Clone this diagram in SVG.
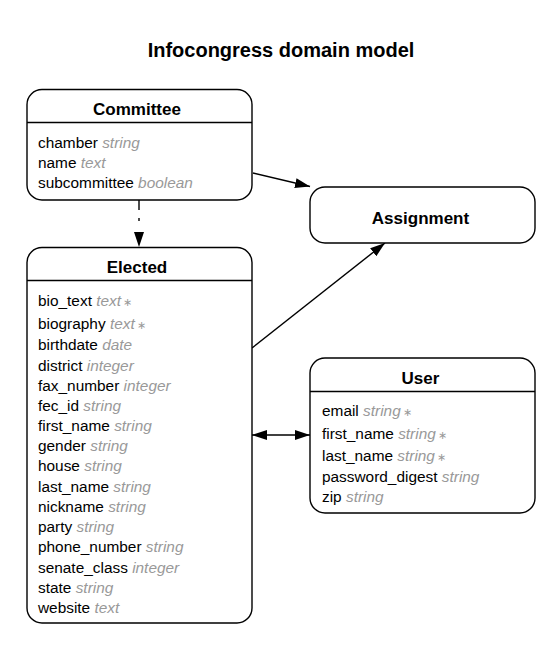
<svg xmlns="http://www.w3.org/2000/svg" width="557" height="649" viewBox="0 0 557 649">
<defs>
<style>
.box{fill:#fff;stroke:#000;stroke-width:1.4}
.div{stroke:#000;stroke-width:1.4}
.hdr{font-family:"Liberation Sans",Arial,sans-serif;font-weight:bold;font-size:17px;text-anchor:middle;fill:#000}
.row{font-family:"Liberation Sans",Arial,sans-serif;font-size:15.4px;fill:#000}
.ty{font-style:italic;fill:#999}
.st{font-size:11px;fill:#999;font-style:normal}
.edge{stroke:#000;stroke-width:1.4;fill:none}
</style>
<marker id="arr" markerUnits="userSpaceOnUse" markerWidth="16" markerHeight="12" refX="15" refY="6" orient="auto">
<path d="M0,1 L15,6 L0,11 Z" fill="#000"/>
</marker>
<marker id="arrS" markerUnits="userSpaceOnUse" markerWidth="16" markerHeight="12" refX="0" refY="6" orient="auto">
<path d="M15,1 L0,6 L15,11 Z" fill="#000"/>
</marker>
</defs>
<rect width="557" height="649" fill="#fff"/>
<text x="281" y="57" font-family="Liberation Sans,Arial,sans-serif" font-weight="bold" font-size="20" text-anchor="middle">Infocongress domain model</text>

<g id="connectors">
<path class="edge" d="M253,173 L310,186.5" marker-end="url(#arr)"/>
<path class="edge" d="M252,348 L385,243" marker-end="url(#arr)"/>
<path class="edge" d="M139,200 L139,247" stroke-dasharray="10,8,3,11" marker-end="url(#arr)"/>
<path class="edge" d="M252,435 L310,435" marker-start="url(#arrS)" marker-end="url(#arr)"/>
</g>

<g id="committee">
<rect class="box" x="27" y="89.5" width="225" height="110.5" rx="15" ry="15"/>
<line class="div" x1="27" y1="122.5" x2="252" y2="122.5"/>
<text class="hdr" x="137" y="115">Committee</text>
<text class="row" x="38" y="148">chamber <tspan class="ty">string</tspan></text>
<text class="row" x="38" y="168">name <tspan class="ty">text</tspan></text>
<text class="row" x="38" y="188">subcommittee <tspan class="ty">boolean</tspan></text>
</g>

<g id="assignment">
<rect class="box" x="310" y="187" width="225" height="56" rx="15" ry="15"/>
<text class="hdr" x="420.5" y="224">Assignment</text>
</g>

<g id="elected">
<rect class="box" x="27" y="247.5" width="225" height="375.5" rx="15" ry="15"/>
<line class="div" x1="27" y1="280.5" x2="252" y2="280.5"/>
<text class="hdr" x="137" y="273">Elected</text>
<text class="row" x="38" y="306">bio_text <tspan class="ty">text</tspan><tspan class="st" dx="2">∗</tspan></text>
<text class="row" x="38" y="329">biography <tspan class="ty">text</tspan><tspan class="st" dx="2">∗</tspan></text>
<text class="row" x="38" y="350">birthdate <tspan class="ty">date</tspan></text>
<text class="row" x="38" y="370.5">district <tspan class="ty">integer</tspan></text>
<text class="row" x="38" y="391">fax_number <tspan class="ty">integer</tspan></text>
<text class="row" x="38" y="411">fec_id <tspan class="ty">string</tspan></text>
<text class="row" x="38" y="431">first_name <tspan class="ty">string</tspan></text>
<text class="row" x="38" y="451">gender <tspan class="ty">string</tspan></text>
<text class="row" x="38" y="471">house <tspan class="ty">string</tspan></text>
<text class="row" x="38" y="492">last_name <tspan class="ty">string</tspan></text>
<text class="row" x="38" y="512">nickname <tspan class="ty">string</tspan></text>
<text class="row" x="38" y="532">party <tspan class="ty">string</tspan></text>
<text class="row" x="38" y="552">phone_number <tspan class="ty">string</tspan></text>
<text class="row" x="38" y="572.5">senate_class <tspan class="ty">integer</tspan></text>
<text class="row" x="38" y="592.5">state <tspan class="ty">string</tspan></text>
<text class="row" x="38" y="612.5">website <tspan class="ty">text</tspan></text>
</g>

<g id="user">
<rect class="box" x="310" y="358" width="225" height="155" rx="15" ry="15"/>
<line class="div" x1="310" y1="391.5" x2="535" y2="391.5"/>
<text class="hdr" x="420.5" y="384">User</text>
<text class="row" x="322" y="416">email <tspan class="ty">string</tspan><tspan class="st" dx="2">∗</tspan></text>
<text class="row" x="322" y="439">first_name <tspan class="ty">string</tspan><tspan class="st" dx="2">∗</tspan></text>
<text class="row" x="322" y="461">last_name <tspan class="ty">string</tspan><tspan class="st" dx="2">∗</tspan></text>
<text class="row" x="322" y="482">password_digest <tspan class="ty">string</tspan></text>
<text class="row" x="322" y="502">zip <tspan class="ty">string</tspan></text>
</g>
</svg>
